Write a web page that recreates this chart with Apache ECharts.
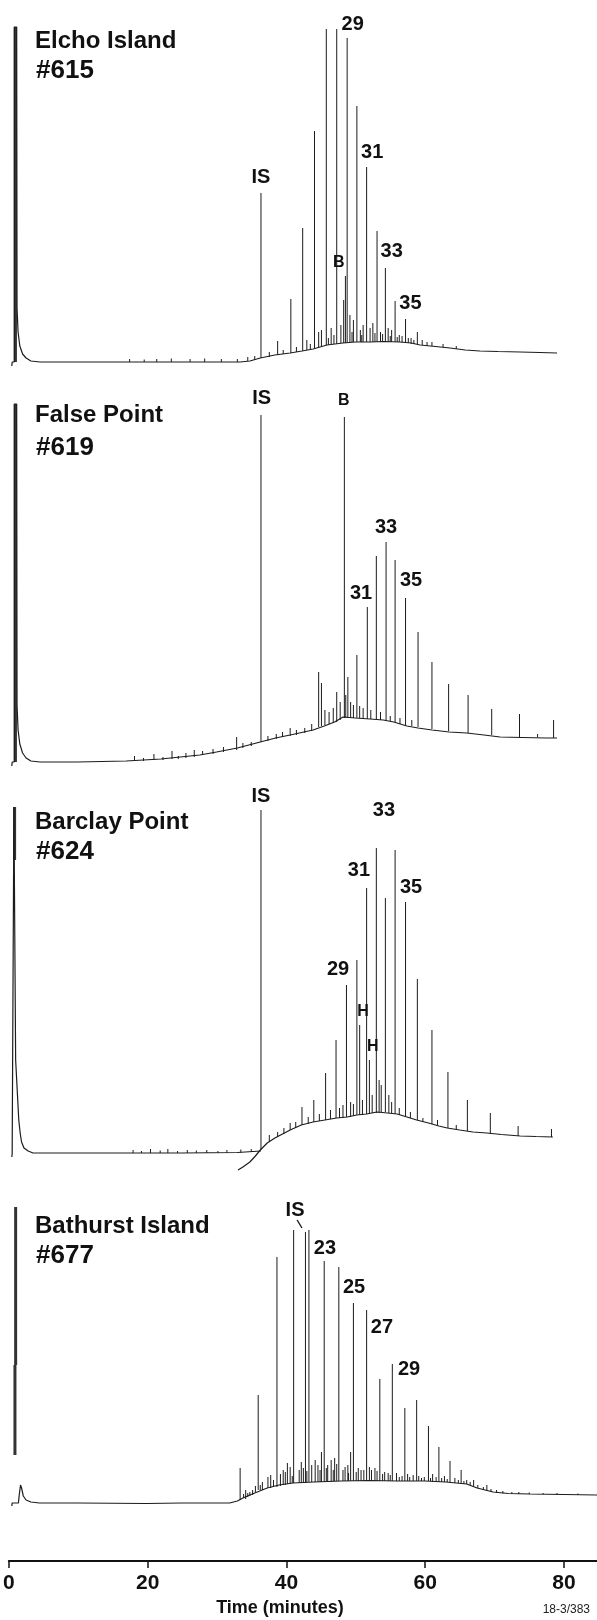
<!DOCTYPE html>
<html>
<head>
<meta charset="utf-8">
<title>Saturated hydrocarbon gas chromatograms</title>
<script src="https://cdn.jsdelivr.net/npm/echarts@6/dist/echarts.min.js"></script>
<style>
  html, body { margin: 0; padding: 0; background: #fff; }
  #chart { width: 597px; height: 1620px; }
</style>
</head>
<body>
<div id="chart"></div>
<script>
// Retention time axis (minutes)
const timeTicks = [0, 20, 40, 60, 80];
const timeMax = 84.75;

// ---- Elcho Island #615 ----
// trace: [time, response]
const elchoTrace = [[0.55,14],[0.6,18],[0.9,18],[0.9,353],[1.25,353],[1.3,72],[1.45,48],[1.7,34],[2.1,26],[2.6,22],[3.3,19],[4.6,18],[12,18],[20,18],[28,18],[33.4,18],[34.8,19],[36.3,22],[38.4,25],[40.6,27],[42.3,29],[43.9,31],[45.9,35],[48.2,37],[50,38],[52.1,38],[54,38.5],[56.4,38],[58,37],[59.3,35],[61.5,33.5],[63.6,32],[65.8,30],[67.9,29],[70.5,28.5],[73.7,28],[76.5,27.5],[79.0,27]];
// solvent front: [time, foot, top]
const elchoSolvent = [[1.07,18,353]];
// peaks: [time, foot, apex]
const elchoPeaks = [[17.5,18,21],[19.6,18,20.5],[21.4,18,21],[23.5,18,21.5],[26.2,18,21],[28.3,18,21.5],[30.7,18,21],[33.0,18,21],[34.5,19,23],[35.5,20,24],
  [36.4,22,187],[37.6,23,28],[38.8,25,39],[39.6,26,30],[40.7,27,81],[41.5,28,33],[42.4,29,152],[43.0,30,40],[43.5,31,36],[44.1,32,249],[44.7,33,48],[45.1,34,50],
  [45.8,35,351],[46.1,35,42],[46.5,36,52],[46.9,36,45],[47.3,36,351],[47.9,37,55],[48.3,37,80],[48.55,37,104],[48.8,37,342],[49.2,38,65],[49.5,38,48],[49.7,38,60],[50.2,38,274],
  [50.7,38,50],[50.9,38,45],[51.1,38,55],[51.6,38,213],[52.1,38,52],[52.5,38,57],[52.8,38,47],[53.1,38,149],[53.6,38,48],[53.9,38,46],[54.3,38,112],[54.7,38,52],[55.0,38,44],[55.2,38,50],
  [55.7,38,79],[56.0,38,43],[56.3,38,45],[56.7,37.5,44],[57.2,37,61],[57.6,37,42],[58.0,36,42],[58.4,36,40],[58.9,36,48],[59.6,35,40],[60.3,34,38],[61.0,34,38],[62.6,33,36],[64.5,31,34]];
const elchoLabels = [[36.4,203,'IS'],[49.6,356,'29'],[52.4,228,'31'],[55.2,129,'33'],[57.9,77,'35']];
const elchoMarks = [[47.6,117,'B']];

// ---- False Point #619 ----
const falseTrace = [[0.55,14],[0.6,18],[0.9,18],[0.9,376],[1.25,376],[1.3,75],[1.45,50],[1.7,36],[2.1,27],[2.6,22],[3.3,19],[4.6,18],[10,18],[17,19],[22,21],[27.6,25],[30,28],[33,32],[36.3,38],[38.5,42],[40.6,45],[43.9,50],[45.5,54],[47,58],[48.2,63],[50,62],[52.1,61],[54,60],[55.5,58],[57.4,54],[59,52],[61,50],[63.5,48],[66,47],[68.5,45],[70.8,43],[74,42.5],[77.5,42],[79,42]];
const falseSolvent = [[1.07,18,376]];
const falsePeaks = [[18.2,19,24],[19.5,19,22],[21.0,20,26],[22.3,20,23],[23.6,21,29],[24.5,21,24],[25.6,22,27],[26.8,23,30],[28.0,25,29],[29.5,26,31],[31.0,28,33],[32.9,30,43],[33.8,32,37],[35,34,38],
  [36.4,38,365],[37.4,39,44],[38.6,41,46],[39.5,43,48],[40.6,44,52],[41.5,45,50],[42.7,47,52],[43.7,49,56],[44.7,53,108],[45.1,54,97],[45.6,55,70],[46.2,56,68],[46.8,57,72],
  [47.3,58,88],[47.8,60,78],[48.4,62,363],[48.6,62,85],[48.9,62,103],[49.3,62,78],[49.7,62,75],[50.2,62,125],[50.6,62,74],[51.1,61,72],[51.7,61,173],[52.2,61,70],
  [53.0,60,224],[53.6,60,68],[54.4,59,238],[55.0,59,64],[55.7,58,220],[56.4,56,62],[57.2,55,182],[58.1,54,60],[59.0,53,148],[61.0,51,118],[63.4,49,96],
  [66.2,47,85],[69.6,45,71],[73.6,43,66],[76.2,42.5,46],[78.5,42,60]];
const falseLabels = [[36.5,382,'IS'],[50.8,187,'31'],[54.4,253,'33'],[58.0,200,'35']];
const falseMarks = [[48.3,379,'B']];

// ---- Barclay Point #624 ----
const barclayTrace = [[0.55,23],[0.6,26],[0.85,26],[0.85,373],[1.05,373],[1.1,120],[1.55,60],[1.75,47],[1.95,38],[2.3,32],[2.9,29],[3.6,27],[6,27],[15,27],[25,27],[33,27.5],[36.4,29]];
const barclayShift = [[33.1,10],[33.8,13],[34.8,18],[35.6,24],[36.3,30],[37.3,37],[38.4,42],[39.5,46],[40.6,50],[42.2,55],[43.9,58],[45.6,60],[47.3,62],[48.8,63],[50.2,65],[51.6,66],[53.1,68],[54.6,67],[56,66],[57.4,63],[58.8,60],[60.5,57],[62,54],[63.2,52],[65,50],[66.9,48],[68.9,47],[71,45.5],[73.7,44],[76,43.5],[78.4,43]];
const barclaySolvent = [[0.95,320,373]];
const barclayPeaks = [[18,27,30],[19.2,27,29],[20.5,27,31],[21.9,27,29.5],[23,27,31],[24.4,27,29],[25.8,27,30],[27.1,27,29.5],[28.6,27,30],[30.2,27,29],[31.5,27,30],[33.5,27.5,30.5],[35.0,28,31],
  [36.4,30,370],[37.6,38,45],[38.8,43,48],[39.7,46,52],[40.6,50,57],[41.4,52,58],[42.3,55,73],[43.2,56,63],[44.0,58,80],[44.8,59,66],[45.7,60,107],[46.4,61,70],
  [47.2,62,140],[47.7,62,72],[48.2,62,75],[48.7,63,195],[49.3,63,78],[49.7,64,76],[50.2,65,220],[50.6,65,155],[51.0,65,80],[51.6,66,292],[52.0,66,120],[52.4,67,85],
  [53.0,67,332],[53.4,67,100],[53.7,68,95],[54.3,68,282],[54.8,67,85],[55.2,67,78],[55.7,66,330],[56.3,65,72],[57.2,64,278],[57.9,62,68],[58.9,60,201],[59.7,58,62],
  [61.0,56,150],[61.8,55,60],[63.3,52,108],[64.5,50,55],[66.1,49,80],[69.4,46,67],[73.4,44,54],[78.2,43,51]];
const barclayLabels = [[36.4,384,'IS'],[54.1,370,'33'],[50.5,310,'31'],[58.0,293,'35'],[47.5,211,'29']];
const barclayMarks = [[51.1,168,'H'],[52.5,133,'H']];

// ---- Bathurst Island #677 ----
const bathurstSolvent = [[1.1,175,333],[1.0,85,175]];
const bathurstTrace = [[0.55,34],[0.6,37],[1.5,37],[1.6,44],[1.8,55],[1.95,52],[2.2,44],[2.6,40],[3.3,38],[4.5,37],[10,37],[20,36.5],[25,37],[31.9,37],[33,39],[33.8,42],[35.5,47],[37.3,52],[39,55],[41,57],[44,58],[48,59],[52,59.5],[56,59],[60,59],[63,58],[66,56],[67.5,52],[69.8,48],[72,46.5],[75.1,46],[80,45.5],[84.75,45]];
const bathurstPeaks = [[33.4,40,72],[33.9,42,46],[34.2,41,50],[34.5,43,47],[34.8,44,48],[35.2,45,50],[35.6,48,54],[36.0,50,145],[36.3,50,55],[36.6,50,58],[37.4,52,63],[37.8,52,65],[38.2,53,60],[38.7,53,283],
  [39.2,54,66],[39.6,55,70],[39.9,55,68],[40.2,56,77],[40.6,56,73],[40.9,57,64],[41.1,57,310],[41.9,57,70],[42.2,57,78],[42.5,57,72],[42.8,57,308],[43.0,58,69],[43.3,58,310],[43.7,58,75],[44.2,58,80],[44.6,58,75],
  [44.9,58,70],[45.1,58,88],[45.5,58,279],[45.8,58,72],[46.0,58,75],[46.5,58,80],[46.8,59,70],[47.0,59,82],[47.3,59,76],[47.6,59,273],[48.2,59,70],[48.5,59,73],[48.9,59,75],[49.0,59,67],[49.3,59,88],[49.7,59,237],[50.1,59,68],[50.4,59,72],[50.8,59,70],
  [51.2,59,70],[51.6,59,230],[52.0,59,73],[52.3,59,70],[52.8,59,72],[53.1,59,69],[53.5,59,161],[53.9,59,66],[54.2,59,68],[54.7,59,67],[55.0,59,65],[55.3,59,176],[55.9,59,67],[56.3,59,63],[56.7,59,64],[57.1,59,132],[57.5,59,66],[57.8,59,63],[58.3,59,65],
  [58.8,59,140],[59.1,59,64],[59.5,59,62],[59.9,59,63],[60.5,59,114],[60.8,59,62],[61.1,58,66],[61.6,58,63],[62.0,58,93],[62.4,58,62],[62.8,58,64],[63.2,58,61],[63.6,58,79],[64.3,57,62],[64.8,57,60],[65.2,57,70],[65.6,56,59],[66.0,56,60],[66.5,55,58],[67.0,54,60],[67.6,52,55],[68.4,50,53],[68.9,49,55],
  [69.5,48,51],[70.3,47,50],[71.2,46.5,49],[72.5,46,48],[73.5,46,48],[75,46,47.5],[77,45.8,47],[79,45.5,47],[82,45,46.5]];
const bathurstLabels = [[41.3,330,'IS'],[45.6,292,'23'],[49.8,253,'25'],[53.8,213,'27'],[57.7,171,'29']];
const bathurstLeader = [[41.6,320],[42.3,312]];

// ---- panel titles ----
const panelNames = ['Elcho Island', 'False Point', 'Barclay Point', 'Bathurst Island'];
const panelNumbers = ['#615', '#619', '#624', '#677'];

// Layout (pixels)
const FONT = '"Liberation Sans", Arial, sans-serif';
const INK = '#1c1c1c';
const panelBoxes = [
  { top: 0, height: 380 },
  { top: 380, height: 400 },
  { top: 780, height: 400 },
  { top: 1180, height: 360 }
];
const titleY = [[41, 71], [415, 448], [822, 852], [1226, 1256]];

const panels = [
  { traces: [elchoTrace], solvent: elchoSolvent, peaks: elchoPeaks, labels: elchoLabels, marks: elchoMarks, leaders: [] },
  { traces: [falseTrace], solvent: falseSolvent, peaks: falsePeaks, labels: falseLabels, marks: falseMarks, leaders: [] },
  { traces: [barclayTrace, barclayShift], solvent: barclaySolvent, peaks: barclayPeaks, labels: barclayLabels, marks: barclayMarks, leaders: [] },
  { traces: [bathurstTrace], solvent: bathurstSolvent, peaks: bathurstPeaks, labels: bathurstLabels, marks: [], leaders: [bathurstLeader] }
];

const grids = [], xAxes = [], yAxes = [], series = [];

function peakRenderer(lineWidth, color) {
  return function (params, api) {
    const t = api.value(0);
    const a = api.coord([t, api.value(1)]);
    const b = api.coord([t, api.value(2)]);
    return { type: 'line', shape: { x1: a[0], y1: a[1], x2: b[0], y2: b[1] },
      style: { stroke: color, lineWidth: lineWidth } };
  };
}
function textRenderer(src, font) {
  return function (params, api) {
    const p = api.coord([api.value(0), api.value(1)]);
    return { type: 'text', x: p[0], y: p[1],
      style: { text: src[params.dataIndex][2], font: font, fill: '#111',
        align: 'center', verticalAlign: 'middle', textAlign: 'center', textVerticalAlign: 'middle' } };
  };
}

panels.forEach(function (pn, i) {
  const box = panelBoxes[i];
  grids.push({ left: 8, right: 0, top: box.top, height: box.height });
  xAxes.push({ type: 'value', gridIndex: i, min: 0, max: timeMax, show: false });
  yAxes.push({ type: 'value', gridIndex: i, min: 0, max: box.height, show: false });
  pn.traces.forEach(function (tr) {
    series.push({ type: 'line', xAxisIndex: i, yAxisIndex: i, data: tr, symbol: 'none',
      silent: true, lineStyle: { color: INK, width: 1.2 }, z: 2 });
  });
  pn.leaders.forEach(function (ld) {
    series.push({ type: 'line', xAxisIndex: i, yAxisIndex: i, data: ld, symbol: 'none',
      silent: true, lineStyle: { color: INK, width: 1.4 }, z: 3 });
  });
  series.push({ type: 'custom', xAxisIndex: i, yAxisIndex: i, data: pn.solvent,
    encode: { x: 0, y: [1, 2] }, renderItem: peakRenderer(3, '#333'), silent: true, z: 2 });
  series.push({ type: 'custom', xAxisIndex: i, yAxisIndex: i, data: pn.peaks,
    encode: { x: 0, y: [1, 2] }, renderItem: peakRenderer(1, INK), silent: true, z: 2 });
  series.push({ type: 'custom', xAxisIndex: i, yAxisIndex: i, data: pn.labels,
    encode: { x: 0, y: 1 }, renderItem: textRenderer(pn.labels, 'bold 20px ' + FONT), silent: true, z: 4 });
  if (pn.marks.length) {
    series.push({ type: 'custom', xAxisIndex: i, yAxisIndex: i, data: pn.marks,
      encode: { x: 0, y: 1 }, renderItem: textRenderer(pn.marks, 'bold 16px ' + FONT), silent: true, z: 4 });
  }
});

// Time axis at the bottom
grids.push({ left: 8, right: 0, top: 1470, height: 91 });
xAxes.push({
  type: 'value', gridIndex: 4, min: 0, max: timeMax, position: 'bottom',
  axisLine: { show: true, onZero: false, lineStyle: { color: '#111', width: 2 } },
  axisTick: { show: true, length: 7, customValues: timeTicks, lineStyle: { color: '#111', width: 1.5 } },
  axisLabel: { show: true, customValues: timeTicks, margin: 12, color: '#111',
    fontSize: 21, fontWeight: 'bold', fontFamily: FONT },
  splitLine: { show: false }
});
yAxes.push({ type: 'value', gridIndex: 4, min: 0, max: 1, show: false });
series.push({ type: 'line', xAxisIndex: 4, yAxisIndex: 4, data: [], symbol: 'none' });

const graphics = [];
panelNames.forEach(function (name, i) {
  graphics.push({ type: 'text', x: 35, y: titleY[i][0],
    style: { text: name, font: 'bold 24px ' + FONT, fill: '#111', verticalAlign: 'middle', textVerticalAlign: 'middle' } });
  graphics.push({ type: 'text', x: 36, y: titleY[i][1],
    style: { text: panelNumbers[i], font: 'bold 26px ' + FONT, fill: '#111', verticalAlign: 'middle', textVerticalAlign: 'middle' } });
});
graphics.push({ type: 'text', x: 280, y: 1608,
  style: { text: 'Time (minutes)', font: 'bold 18px ' + FONT, fill: '#111',
    align: 'center', textAlign: 'center', verticalAlign: 'middle', textVerticalAlign: 'middle' } });
graphics.push({ type: 'text', x: 590, y: 1610,
  style: { text: '18-3/383', font: '12px ' + FONT, fill: '#222',
    align: 'right', textAlign: 'right', verticalAlign: 'middle', textVerticalAlign: 'middle' } });

const chart = echarts.init(document.getElementById('chart'), null, { renderer: 'canvas' });
chart.setOption({
  backgroundColor: '#ffffff',
  animation: false,
  grid: grids,
  xAxis: xAxes,
  yAxis: yAxes,
  series: series,
  graphic: graphics
});
</script>
</body>
</html>
